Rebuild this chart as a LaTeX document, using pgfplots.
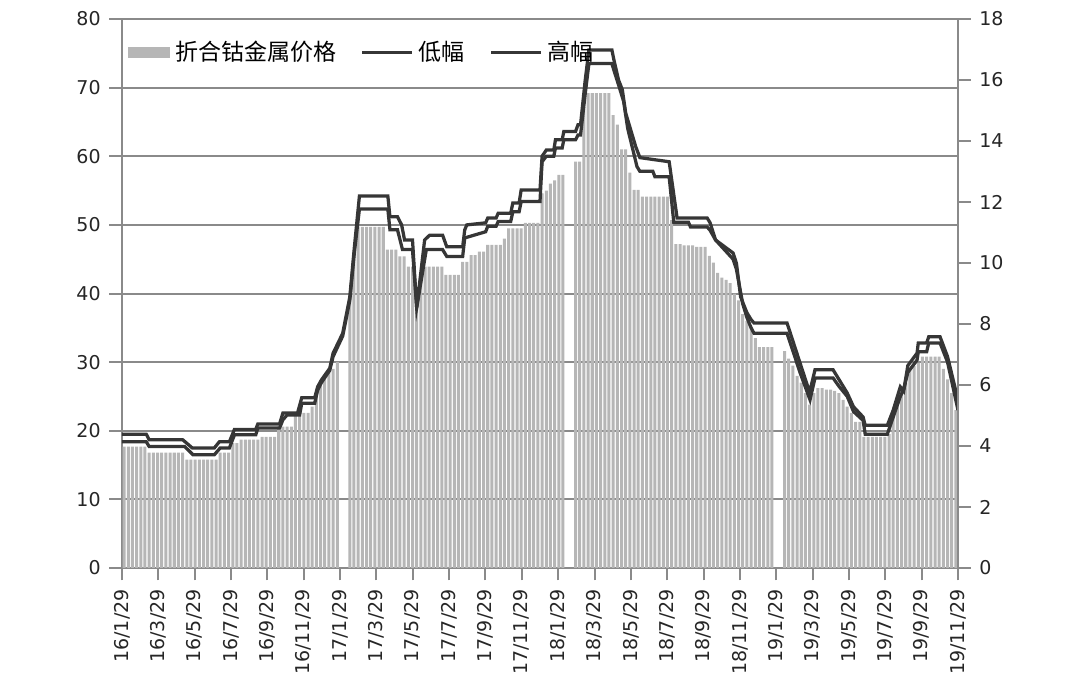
\documentclass[border=0pt]{standalone}
\usepackage{fontspec}
\setmainfont{DejaVu Sans}
\newfontfamily\cjk{Noto Sans CJK SC}
\usepackage{pgfplots}
\pgfplotsset{compat=1.18}

\definecolor{barc}{HTML}{B6B6B6}
\definecolor{linec}{HTML}{363636}
\definecolor{gridc}{HTML}{8A8A8A}

\begin{document}
\begin{tikzpicture}
\path[use as bounding box] (-48.8pt,-51.2pt) rectangle (383.2pt,227.2pt);
\begin{axis}[
    scale only axis,
    width=334.4pt, height=219.6pt,
    xmin=-0.5, xmax=199.5,
    ymin=0, ymax=80,
    ytick={0,10,...,80},
    axis x line*=bottom,
    axis y line*=left,
    axis line style={gridc, line width=0.8pt},
    ymajorgrids,
    major grid style={gridc, line width=0.8pt},
    tick style={gridc, line width=0.8pt},
    major tick length=5pt,
    tick align=outside,
    xtick={-0.5,8.196,16.891,25.587,34.283,42.978,51.674,60.370,69.065,77.761,86.457,95.152,103.848,112.543,121.239,129.935,138.630,147.326,156.022,164.717,173.413,182.109,190.804,199.5},
    xticklabels={16/1/29,16/3/29,16/5/29,16/7/29,16/9/29,16/11/29,17/1/29,17/3/29,17/5/29,17/7/29,17/9/29,17/11/29,18/1/29,18/3/29,18/5/29,18/7/29,18/9/29,18/11/29,19/1/29,19/3/29,19/5/29,19/7/29,19/9/29,19/11/29},
    x tick label style={rotate=90, anchor=east, font=\fontsize{7.6}{9}\selectfont, text=black!85},
    y tick label style={font=\fontsize{7.6}{9}\selectfont, text=black!85},
    /pgf/number format/assume math mode=true,
    legend columns=3,
    legend style={at={(0.003,0.975)}, anchor=north west, draw=none, fill=none,
        font=\cjk\fontsize{9.2}{11}\selectfont, inner sep=1pt,
        /tikz/every even column/.append style={column sep=8pt}},
]
\addplot[fill=barc, draw=none, ybar, bar width=0.72, bar shift=0pt,
    legend image code/.code={\fill[barc] (0pt,-2.2pt) rectangle (17pt,2.2pt);}]
coordinates {
(0,17.7) (1,17.7) (2,17.7) (3,17.7) (4,17.7) (5,17.7)
(6,16.8) (7,16.8) (8,16.8) (9,16.8) (10,16.8) (11,16.8) (12,16.8) (13,16.8) (14,16.8)
(15,15.8) (16,15.8) (17,15.8) (18,15.8) (19,15.8) (20,15.8) (21,15.8) (22,15.8)
(23,16.8) (24,16.8) (25,16.8) (26,18.2) (27,18.2)
(28,18.7) (29,18.7) (30,18.7) (31,18.7) (32,18.7)
(33,19.1) (34,19.1) (35,19.1) (36,19.1)
(37,20.6) (38,20.6) (39,20.6) (40,20.6)
(41,22.6) (42,22.6) (43,22.6) (44,22.6)
(45,23.5) (46,25) (47,26.5) (48,27.5) (49,28.5) (50,29) (51,30)
(54,40) (55,46)
(56,49.7) (57,49.7) (58,49.7) (59,49.7) (60,49.7) (61,49.7) (62,49.7)
(63,46.4) (64,46.4) (65,46.4) (66,45.4) (67,45.4) (68,43.9) (69,43.9)
(70,37.9) (71,42)
(72,43.9) (73,43.9) (74,43.9) (75,43.9) (76,43.9)
(77,42.7) (78,42.7) (79,42.7) (80,42.7)
(81,44.6) (82,44.6) (83,45.6) (84,45.6) (85,46.1) (86,46.1)
(87,47.1) (88,47.1) (89,47.1) (90,47.1) (91,48)
(92,49.5) (93,49.5) (94,49.5) (95,49.5)
(96,50.3) (97,50.3) (98,50.3) (99,50.3)
(100,54.6) (101,55) (102,56) (103,56.5) (104,57.3) (105,57.3)
(108,59.2) (109,59.2) (110,67.2)
(111,69.2) (112,69.2) (113,69.2) (114,69.2) (115,69.2) (116,69.2)
(117,66) (118,64.6) (119,61) (120,61) (121,57.6) (122,55.1) (123,55.1)
(124,54.1) (125,54.1) (126,54.1) (127,54.1) (128,54.1) (129,54.1) (130,54.1)
(131,50.7)
(132,47.2) (133,47.2) (134,47) (135,47) (136,47) (137,46.8) (138,46.8) (139,46.8)
(140,45.5) (141,44.5) (142,43) (143,42.3) (144,42) (145,41.5) (146,40) (147,39)
(148,37) (149,36) (150,35) (151,33.5)
(152,32.2) (153,32.2) (154,32.2) (155,32.2)
(158,31.6) (159,30.5) (160,29.5) (161,28) (162,27) (163,25.5) (164,23.8) (165,25.5)
(166,26.2) (167,26.2) (168,26) (169,26) (170,25.8)
(171,25.5) (172,24.5) (173,23.5) (174,22.6) (175,21.3) (176,21.3)
(177,19.1) (178,19.1) (179,19.1) (180,19.1) (181,19.1) (182,19.1)
(183,19.5) (184,22) (185,24) (186,26) (187,27) (188,28.9) (189,29.4) (190,29.9)
(191,30.8) (192,30.8) (193,30.8) (194,30.8) (195,30.8)
(196,29) (197,27.5) (198,25.5) (199,23)
};
\addlegendentry{折合钴金属价格}

% low
\addplot[linec, line width=1.3pt, sharp plot,
    legend image code/.code={\draw[linec, line width=1.1pt] (0pt,0pt) -- (20pt,0pt);}]
coordinates {
(-0.5,18.4) (5.3,18.4) (6,17.7) (14.5,17.7) (16.5,16.5) (21.6,16.5) (23,17.5) (25.2,17.5)
(26.4,19.4) (31.5,19.4) (32,20.4) (37.2,20.4) (38,21.6) (39,22.3) (42,22.3) (42.5,24)
(45.6,24) (46.3,25.9) (47.2,27) (49.2,28.8) (50,30.8) (52.3,33.8) (54,39) (55.1,46)
(56.3,52.3) (63.1,52.3) (63.6,49.3) (65.4,49.3) (66.6,46.4) (69,46.4) (70,37.9)
(72.3,46.4) (76.2,46.4) (77.2,45.4) (81,45.4) (81.5,48.1) (86.5,49) (87,49.8) (89,49.8)
(89.5,50.5) (92.5,50.5) (93,51.9) (94.5,51.9) (95,53.4) (99.5,53.4) (100,59.2) (101,60)
(102.8,60) (103.2,61.2) (104.8,61.2) (105.2,62.4) (108,62.4) (108.6,63.1) (109.2,63.1)
(110.3,69) (111.2,73.5) (116.7,73.5) (117.2,72.5) (118.5,70) (119.5,68) (120.5,64)
(122.7,58.5) (123.4,57.8) (126.5,57.8) (127,57) (130.4,57) (131.5,50.4) (135,50.4)
(135.5,49.7) (139.5,49.7) (140.2,49.2) (141.5,47.8) (145.7,45) (146.5,43.5) (148,38.5)
(149,36.5) (150,35) (150.7,34.2) (158.6,34.2) (161.7,28.5) (164.1,24.5) (165.3,27.7)
(169.6,27.7) (171,26.5) (173,25) (174.5,22.8) (176.8,21.5) (177.3,19.5) (182.6,19.5)
(184,22) (185.7,25) (186.5,26) (187.5,28.5) (189.7,30.3) (190,31.5) (192,31.5)
(192.5,32.8) (195.2,32.8) (197,30) (199.5,23)
};
\addlegendentry{低幅}

% high
\addplot[linec, line width=1.3pt, sharp plot,
    legend image code/.code={\draw[linec, line width=1.1pt] (0pt,0pt) -- (20pt,0pt);}]
coordinates {
(-0.5,19.5) (5.3,19.5) (6,18.7) (14,18.7) (16.3,17.5) (21.6,17.5) (22.8,18.4) (25.2,18.4)
(26.4,20.2) (31.5,20.2) (32,21) (37.2,21) (38,22.6) (41.5,22.6) (42.5,24.8) (45.6,24.8)
(46.3,26.4) (47.2,27.4) (49.2,29.1) (50,31.3) (52.3,34.2) (54,39.5) (55.1,46.8)
(56.3,54.2) (63.1,54.2) (63.6,51.2) (65.4,51.2) (66.4,50) (67.1,47.8) (69,47.8)
(70,37.9) (71.9,47.8) (73.1,48.5) (76.2,48.5) (77.2,46.8) (81,46.8) (81.5,49.3) (82,50)
(86.5,50.3) (87,51) (89,51) (89.5,51.7) (92.5,51.7) (93,53.2) (94.5,53.2) (95,55.1)
(99.5,55.1) (100,60) (101,60.9) (102.8,60.9) (103.2,62.4) (104.8,62.4) (105.2,63.6)
(108,63.6) (108.6,64.6) (109.2,64.6) (110.3,71) (111.2,75.5) (116.7,75.5) (117.2,74)
(118.3,71.1) (119.2,69.7) (120,66.3) (122.4,61.4) (123.4,59.8) (130.4,59.2) (132.3,51)
(139.5,51) (140.2,50.3) (141.5,47.8) (145.7,45.9) (146.5,44.4) (147.5,39.5) (149,37.2)
(150,36.2) (150.7,35.7) (158.6,35.7) (161.7,29.9) (164,25.6) (165.3,28.9) (169.6,28.9)
(171,27.5) (173,25.5) (174.5,23.5) (176.8,22) (177.3,20.8) (182.6,20.8) (184,23)
(185.7,26.4) (186.5,25.8) (187.5,29.5) (189.7,31.3) (190,32.8) (192,32.8) (192.5,33.7)
(195.2,33.7) (197,30.8) (199.5,24.5)
};
\addlegendentry{高幅}
\end{axis}

\begin{axis}[
    scale only axis,
    width=334.4pt, height=219.6pt,
    xmin=-0.5, xmax=199.5,
    ymin=0, ymax=18,
    ytick={0,2,...,18},
    axis x line=none,
    axis y line*=right,
    axis line style={gridc, line width=0.8pt},
    tick style={gridc, line width=0.8pt},
    major tick length=5pt,
    tick align=outside,
    y tick label style={font=\fontsize{7.6}{9}\selectfont, text=black!85},
    /pgf/number format/assume math mode=true,
]
\addplot[draw=none] coordinates {(0,0)};
\end{axis}
\end{tikzpicture}
\end{document}
